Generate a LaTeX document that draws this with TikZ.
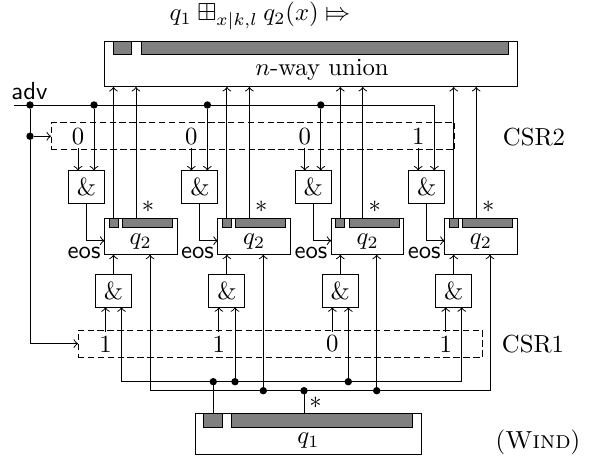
\documentclass[tikz,border=0pt]{standalone}
\usepackage{amssymb}
\usepackage{stmaryrd}
\usetikzlibrary{arrows}
\tikzset{
  x=0.405pt, y=-0.405pt,
  box/.style={draw=black, fill=white, line width=0.4pt, inner sep=0pt, outer sep=0pt},
  graybar/.style={draw=black, fill=black!50, line width=0.4pt, inner sep=0pt, outer sep=0pt},
  gatebox/.style={box, minimum width=14.6pt, minimum height=13.2pt},
  qbox/.style={box, minimum width=29.4pt, minimum height=14.75pt},
  qsmall/.style={graybar, minimum width=3.65pt, minimum height=3.75pt},
  qbig/.style={graybar, minimum width=20.25pt, minimum height=3.75pt},
  csrbox/.style={draw=black, line width=0.4pt, dash pattern=on 2.6pt off 1.4pt, inner sep=0pt, outer sep=0pt},
  lab/.style={inner sep=0pt, outer sep=0pt},
  bit/.style={inner sep=1.5pt, outer sep=0pt},
  wire/.style={draw=black, line width=0.4pt},
  arrow/.style={wire, ->},
  dotnode/.style={circle, fill=black, inner sep=0pt, outer sep=0pt, minimum size=3pt},
}
\begin{document}
\begin{tikzpicture}
\useasboundingbox (0,0) rectangle (594,460);

% labels
\node[lab] (title) at (260,16) {$q_1 \boxplus_{x|k,l} q_2(x) \Mapsto$};
\node[lab] (csr2) at (534,137) {CSR2};
\node[lab] (csr1) at (533,344) {CSR1};
\node[lab] (wind) at (538,442) {(\textsc{Wind})};
\node[lab] (advl) at (29.5,91) {\sffamily adv};

% top box
\node[box, minimum width=167.1pt, minimum height=18.4pt] (top) at (310.9,64.25) {};
\node[graybar, minimum width=7.3pt, minimum height=5.45pt] (tops) at (122.5,48.25) {};
\node[graybar, minimum width=148.8pt, minimum height=5.45pt] (topb) at (324.75,48.25) {};
\node[lab] (union) at (322,70) {$n$-way union};

% bottom box
\node[box, minimum width=91.9pt, minimum height=16.75pt] (bot) at (308.5,434) {};
\node[graybar, minimum width=7.5pt, minimum height=5.7pt] (bots) at (213.25,420.3) {};
\node[graybar, minimum width=73.4pt, minimum height=5.7pt] (botb) at (322.1,420.3) {};
\node[lab] (q1l) at (308.5,441) {$q_1$};

% CSR boxes
\node[csrbox, minimum width=163.6pt, minimum height=11.1pt] (c2) at (253,136.25) {};
\node[csrbox, minimum width=163.7pt, minimum height=11.05pt] (c1) at (280.15,343.65) {};

% adv wire
\coordinate (advs) at (14,105);
\coordinate (adve) at (434.3,105);
\node[dotnode] (advd) at (30,105) {};
\node[dotnode] (advm) at (30,136.25) {};
\coordinate (advb) at (30,343.65);
\draw[wire] (advs) -- (adve);
\draw[wire] (advd) -- (advm) -- (advb);
\draw[arrow] (advm) -- (c2.west);
\draw[arrow] (advb) -- (c1.west);

% rails
\coordinate (raila) at (121.5,381.7);
\coordinate (railae) at (461.7,381.7);
\coordinate (railb) at (150,390.7);
\coordinate (railbe) at (490,390.7);
\draw[wire] (raila) -- (railae);
\draw[wire] (railb) -- (railbe);
\node[dotnode] (da) at (213.25,381.7) {};
\node[dotnode] (db) at (235,381.7) {};
\node[dotnode] (dc) at (263.3,390.7) {};
\node[dotnode] (dd) at (304,390.7) {};
\node[dotnode] (de) at (348.3,381.7) {};
\node[dotnode] (df) at (376.7,390.7) {};
\draw[wire] (da) -- (bots.north);
\draw[wire] (dd) -- (dd |- botb.north);
\node[lab] (star) at (315.5,403) {$*$};

\foreach \i/\x/\u/\l in {1/0/0/1,2/113.4/0/1,3/226.8/0/0,4/340.2/1/1}{
  % upper gate and its inputs
  \node[gatebox] (ug\i) at (86.5+\x,186.75) {\&};
  \node[bit] (ub\i) at (78+\x,136.25) {\u};
  \draw[arrow] (ub\i.south) -- (ub\i.south |- ug\i.north);
  % q2 box
  \node[qbox] (q\i) at (140.75+\x,236.5) {};
  \node[qsmall] (qs\i) at (113.5+\x,222.95) {};
  \node[qbig] (qb\i) at (147.5+\x,222.95) {};
  \node[lab] (ql\i) at (140.75+\x,242) {$q_2$};
  \node[lab] (qst\i) at (148+\x,207) {$*$};
  \node[lab, anchor=east] (eos\i) at (100.5+\x,252.5) {\sffamily eos};
  % lower gate
  \node[gatebox] (lg\i) at (113.5+\x,291) {\&};
  \node[bit] (lb\i) at (105.5+\x,344) {\l};
  % connections
  \coordinate (ut\i) at (136+\x,218.3);
  \draw[arrow] (qs\i.north) -- (qs\i.north |- top.south);
  \draw[arrow] (ut\i) -- (ut\i |- top.south);
  \coordinate (uo\i) at (86.5+\x,240.7);
  \draw[arrow] (ug\i.south) -- (uo\i) -- (uo\i -| q\i.west);
  \draw[arrow] (lg\i.north) -- (lg\i.north |- q\i.south);
  \draw[arrow] (lb\i.north) -- (lb\i.north |- lg\i.south);
}
% adv taps
\node[dotnode] (t1) at (94,105) {};
\node[dotnode] (t2) at (207.4,105) {};
\node[dotnode] (t3) at (320.8,105) {};
\draw[arrow] (t1) -- (t1 |- ug1.north);
\draw[arrow] (t2) -- (t2 |- ug2.north);
\draw[arrow] (t3) -- (t3 |- ug3.north);
\draw[arrow] (adve) -- (adve |- ug4.north);

% lower gate right inputs
\draw[arrow] (raila) -- (raila |- lg1.south);
\draw[arrow] (db) -- (db |- lg2.south);
\draw[arrow] (de) -- (de |- lg3.south);
\draw[arrow] (railae) -- (railae |- lg4.south);
% q2 lower inputs
\draw[arrow] (railb) -- (railb |- q1.south);
\draw[arrow] (dc) -- (dc |- q2.south);
\draw[arrow] (df) -- (df |- q3.south);
\draw[arrow] (railbe) -- (railbe |- q4.south);
\end{tikzpicture}
\end{document}
